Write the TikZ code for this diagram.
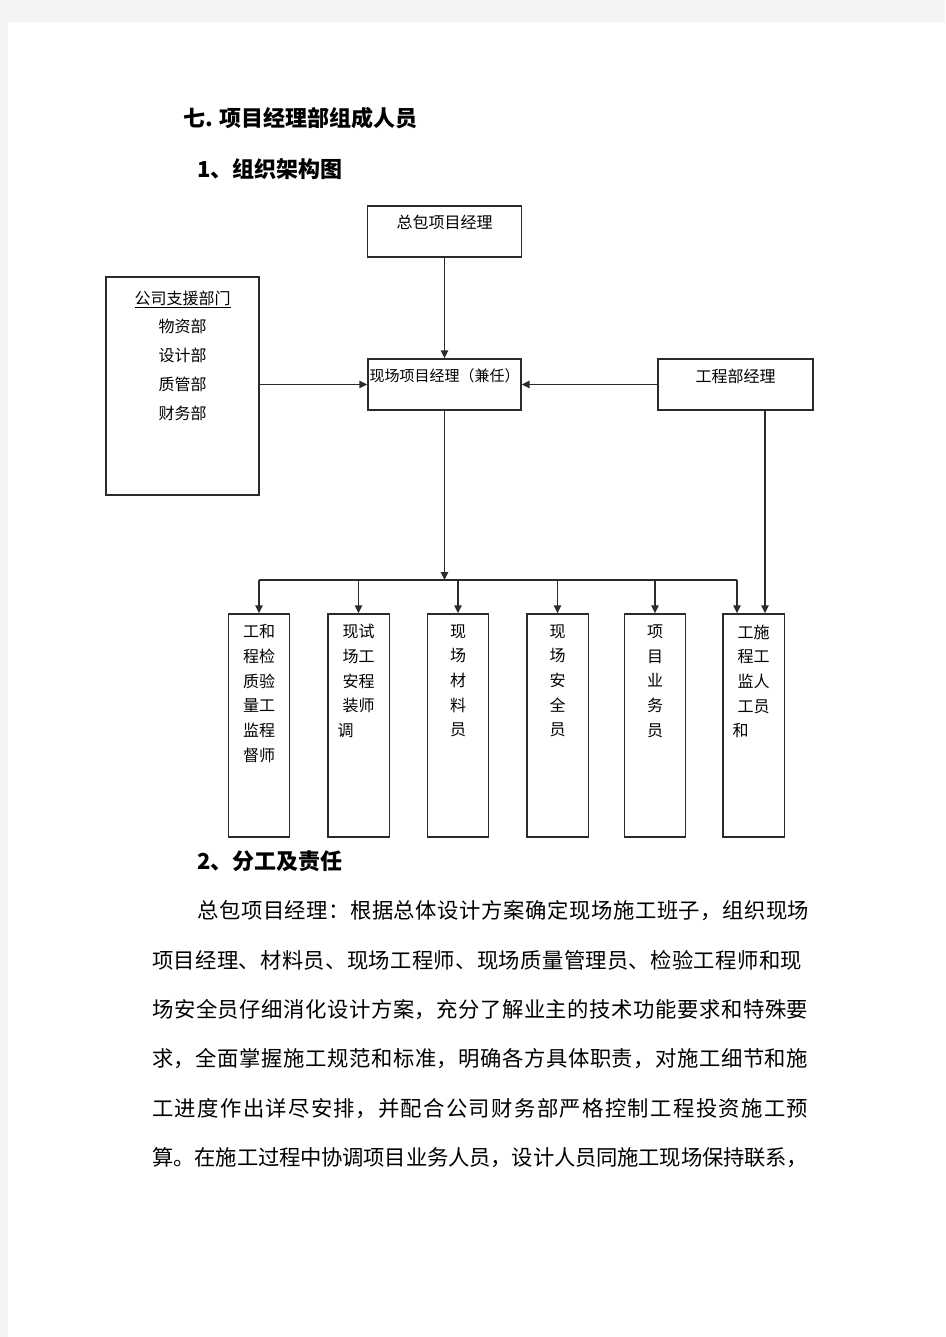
\documentclass[tikz,border=0pt]{standalone}
\usepackage{fontspec}
\setmainfont{Noto Sans CJK SC}
\usepackage{tikz}
\usetikzlibrary{arrows.meta,positioning}
\usepackage{xcolor}
\XeTeXlinebreaklocale "zh"
\XeTeXlinebreakskip=0pt plus 3pt minus 0.6pt
\definecolor{pagegrey}{HTML}{F4F4F4}
\definecolor{inkline}{HTML}{2B2B2B}
\newcommand{\bodyline}[2]{\parbox{#1}{\parfillskip=0pt #2}}

\begin{document}
\begin{tikzpicture}[
    x=0.75pt, y=-0.75pt,
    box/.style={rectangle, draw=inkline, line width=1pt, inner sep=0pt},
    col/.style={box, minimum width=46pt, minimum height=167.25pt},
    lbl/.style={inner sep=0pt, font=\fontsize{12}{14}\selectfont},
    coltext/.style={inner sep=0pt, align=left, font=\fontsize{12}{18.5}\selectfont},
    head/.style={inner sep=0pt, anchor=west, font=\fontsize{16.5}{20}\selectfont\bfseries},
    body/.style={inner sep=0pt, anchor=west, font=\fontsize{16}{20}\selectfont},
    arr/.style={-{Triangle[length=6pt,width=5.5pt]}, draw=inkline, line width=1.1pt},
    bus/.style={draw=inkline, line width=1.1pt}
]

\useasboundingbox (0,0) rectangle (945,1337);
\fill[pagegrey] (0,0) rectangle (945,1337);
\fill[white] (8,22) rectangle (945,1337);

\node[head] (title) at (183,118) {七. 项目经理部组成人员};
\node[head] (sec1) at (197,169) {1、组织架构图};

% upper boxes
\node[box, minimum width=115.5pt, minimum height=38.25pt] (zongbao) at (444.5,231.5) {};
\node[box, minimum width=114.75pt, minimum height=163.5pt] (gongsi) at (182.5,386) {};
\node[box, minimum width=114.75pt, minimum height=38.25pt] (xianchang) at (444.5,384.5) {};
\node[box, minimum width=116.25pt, minimum height=38.25pt] (gongcheng) at (735.5,384.5) {};

\node[lbl, below=6.75pt of zongbao.north] (zongbaot) {总包项目经理};
\node[lbl, align=center, font=\fontsize{12}{21.6}\selectfont, below=10.5pt of gongsi.north] (gongsit)
    {\underline{公司支援部门}\\物资部\\设计部\\质管部\\财务部};
\node[lbl, font=\fontsize{11.25}{14}\selectfont, below=7.5pt of xianchang.north] (xianchangt) {现场项目经理（兼任）};
\node[lbl, below=7.5pt of gongcheng.north] (gongchengt) {工程部经理};

\draw[arr] (zongbao) -- (xianchang);
\draw[arr] (gongsi.east |- xianchang.west) -- (xianchang.west);
\draw[arr] (gongcheng) -- (xianchang);

% bottom columns
\foreach \i/\x in {1/259,2/358.5,3/458,4/557.5,5/655,6/753.5}
    \node[col] (b\i) at (\x,725.5) {};

\foreach \i/\t in {1/{工和\\程检\\质验\\量工\\监程\\督师},
                   2/{现试\\场工\\安程\\装师\\\hspace*{-3.75pt}调},
                   3/{现\\场\\材\\料\\员},
                   4/{现\\场\\安\\全\\员},
                   5/{项\\目\\业\\务\\员},
                   6/{工施\\程工\\监人\\工员\\\hspace*{-3.75pt}和}}
    \node[coltext, below=8.25pt of b\i.north] (t\i) {\t};

\coordinate (hub) at (444.5,580);
\coordinate (busR) at (737,580);
\coordinate (drop) at (765,0);

\draw[arr] (xianchang) -- (hub);
\draw[bus] (b1.north |- hub) -- (busR);
\foreach \i in {1,...,5}
    \draw[arr] (b\i.north |- hub) -- (b\i.north);
\draw[arr] (busR) -- (busR |- b6.north);
\draw[arr] (gongcheng.south -| drop) -- (b6.north -| drop);

% text below
\node[head] (sec2) at (197,861) {2、分工及责任};
\node[body] (p1) at (197,911) {\bodyline{459pt}{总包项目经理：根据总体设计方案确定现场施工班子，组织现场}};
\node[body] (p2) at (152,960) {\bodyline{487.5pt}{项目经理、材料员、现场工程师、现场质量管理员、检验工程师和现}};
\node[body] (p3) at (152,1010) {\bodyline{492pt}{场安全员仔细消化设计方案，充分了解业主的技术功能要求和特殊要}};
\node[body] (p4) at (152,1059) {\bodyline{492pt}{求，全面掌握施工规范和标准，明确各方具体职责，对施工细节和施}};
\node[body] (p5) at (152,1109) {\bodyline{492pt}{工进度作出详尽安排，并配合公司财务部严格控制工程投资施工预}};
\node[body] (p6) at (152,1158) {\bodyline{492pt}{算。在施工过程中协调项目业务人员，设计人员同施工现场保持联系，}};

\end{tikzpicture}
\end{document}
